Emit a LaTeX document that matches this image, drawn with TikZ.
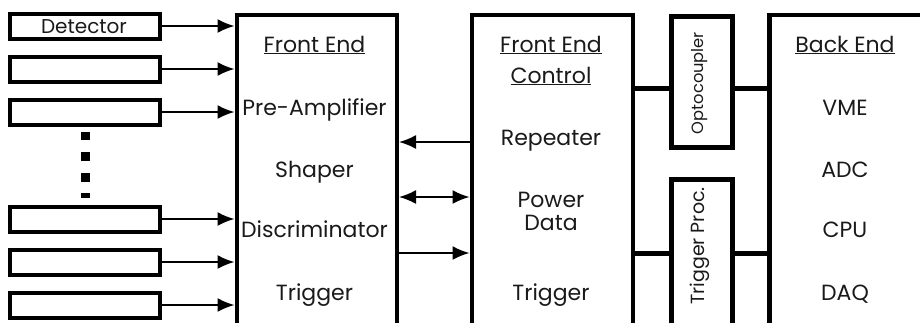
\documentclass[tikz,border=0pt]{standalone}
\usepackage{fontspec}
\setmainfont{Poppins}
\usetikzlibrary{arrows.meta}
\definecolor{txt}{HTML}{1A1A1A}
\tikzset{
  bigbox/.style={draw=black, line width=4.5pt, fill=white, inner sep=0pt, anchor=north west},
  detbox/.style={draw=black, line width=4pt, fill=white, inner sep=0pt, minimum width=150pt, minimum height=25pt},
  lbl/.style={font=\fontsize{22}{26}\selectfont, text=txt, inner sep=0pt, anchor=base},
  vlbl/.style={text=txt, inner sep=0pt, rotate=90, anchor=center},
  arr/.style={line width=1.8pt, -{Latex[length=17pt,width=14pt]}},
  darr/.style={line width=1.8pt, {Latex[length=17pt,width=14pt]}-{Latex[length=17pt,width=14pt]}},
  link/.style={line width=4.5pt},
  dotsq/.style={fill=black}
}
\begin{document}
\begin{tikzpicture}[x=1pt,y=-1pt]
\clip (0,0) rectangle (920,322);
\fill[white] (0,0) rectangle (920,322);

% big boxes
\node[bigbox, minimum width=160pt, minimum height=320pt] (fe) at (234.5,12.5) {};
\node[bigbox, minimum width=161pt, minimum height=320pt] (fec) at (469.5,12.5) {};
\node[bigbox, minimum width=61pt, minimum height=131pt] (opto) at (669,14) {};
\node[bigbox, minimum width=61pt, minimum height=160pt] (tp) at (669,177) {};
\node[bigbox, minimum width=200pt, minimum height=320pt] (be) at (767,12.5) {};

% detector boxes
\node[detbox] (d1) at (85,26) {};
\node[detbox] (d2) at (85,69) {};
\node[detbox] (d3) at (85,112) {};
\node[detbox] (d4) at (85,219) {};
\node[detbox] (d5) at (85,262) {};
\node[detbox] (d6) at (85,305) {};
\node[font=\fontsize{20}{24}\selectfont, text=txt, inner sep=0pt, anchor=base] (dlbl) at (84,33.5) {Detector};

% dots
\fill[dotsq] (81,132) rectangle (90,140);
\fill[dotsq] (81,152) rectangle (90,161);
\fill[dotsq] (81,173) rectangle (90,182);
\fill[dotsq] (81,193) rectangle (90,198);

% detector arrows
\foreach \d in {d1,d2,d3,d4,d5,d6}
  \draw[arr] (\d.east) -- (\d.east -| fe.west);

% FE <-> FEC arrows
\coordinate (ya) at (0,142);
\coordinate (yb) at (0,197);
\coordinate (yc) at (0,253);
\draw[arr] (fec.west |- ya) -- (fe.east |- ya);
\draw[darr] (fe.east |- yb) -- (fec.west |- yb);
\draw[arr] (fe.east |- yc) -- (fec.west |- yc);

% thick links
\coordinate (yo) at (0,88.5);
\coordinate (yt) at (0,253.5);
\draw[link] (fec.east |- yo) -- (opto.west |- yo);
\draw[link] (opto.east |- yo) -- (be.west |- yo);
\draw[link] (fec.east |- yt) -- (tp.west |- yt);
\draw[link] (tp.east |- yt) -- (be.west |- yt);

% Front End text
\node[lbl] (fe1) at (314.5,52) {\underline{Front End}};
\node[lbl] (fe2) at (314.5,115) {Pre-Amplifier};
\node[lbl] (fe3) at (314.5,177) {Shaper};
\node[lbl] (fe4) at (314.5,237) {Discriminator};
\node[lbl] (fe5) at (314.5,300) {Trigger};

% Front End Control text
\node[lbl] (fc1) at (551,52) {\underline{Front End}};
\node[lbl] (fc2) at (551,83) {\underline{Control}};
\node[lbl] (fc3) at (551,145) {Repeater};
\node[lbl] (fc4) at (551,207) {Power};
\node[lbl] (fc5) at (551,230) {Data};
\node[lbl] (fc6) at (551,300) {Trigger};

% Back End text
\node[lbl] (be1) at (845,52) {\underline{Back End}};
\node[lbl] (be2) at (845,115) {VME};
\node[lbl] (be3) at (845,177) {ADC};
\node[lbl] (be4) at (845,237) {CPU};
\node[lbl] (be5) at (845,300) {DAQ};

% vertical labels
\node[vlbl, font=\fontsize{16.3}{19}\selectfont] (ol) at (700,83) {Optocoupler};
\node[vlbl, font=\fontsize{19}{22}\selectfont] (tl) at (700,246) {Trigger Proc.};
\end{tikzpicture}
\end{document}
